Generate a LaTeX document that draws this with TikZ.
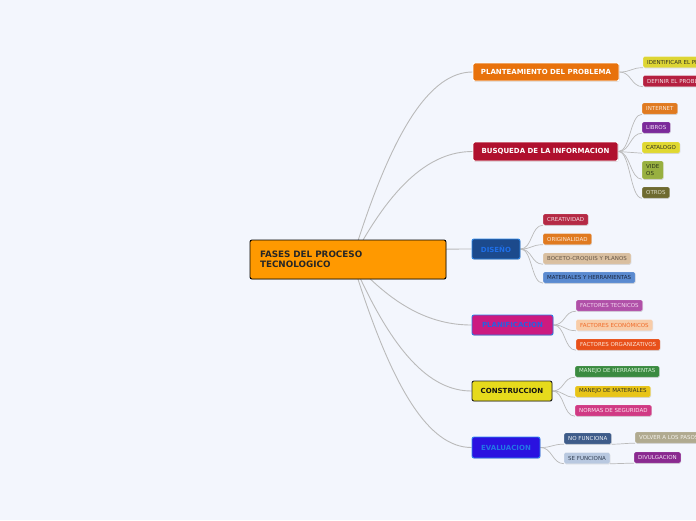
\documentclass[tikz,border=0pt]{standalone}
\usepackage{fontspec}
\setmainfont{DejaVu Sans}
\usetikzlibrary{shadows,calc}
\pgfdeclarelayer{bg}
\pgfsetlayers{bg,main}
\definecolor{bgc}{HTML}{F3F6FD}
\definecolor{linec}{HTML}{BABABA}
\definecolor{cOrange}{HTML}{FF9900}
\definecolor{cPlan}{HTML}{E8720C}
\definecolor{cBusq}{HTML}{B0102E}
\definecolor{cDisB}{HTML}{2E86E6}
\definecolor{cDisF}{HTML}{1C4A8C}
\definecolor{cDisT}{HTML}{1F6FE8}
\definecolor{cPlfB}{HTML}{2E7AE6}
\definecolor{cPlfF}{HTML}{CC1A80}
\definecolor{cPlfT}{HTML}{2A5FE0}
\definecolor{cConB}{HTML}{222222}
\definecolor{cConF}{HTML}{E6DA1C}
\definecolor{cConT}{HTML}{111111}
\definecolor{cEvaB}{HTML}{3088F0}
\definecolor{cEvaF}{HTML}{2A12E0}
\definecolor{cEvaT}{HTML}{2276E6}
\definecolor{tDark}{HTML}{333322}
\definecolor{fIdent}{HTML}{DDD533}
\definecolor{fDefin}{HTML}{B52040}\definecolor{tDefin}{HTML}{F4E4E8}
\definecolor{fInter}{HTML}{E07A20}\definecolor{tInter}{HTML}{FBE8D8}
\definecolor{fLibros}{HTML}{7B2A9A}\definecolor{tLibros}{HTML}{F0E0F4}
\definecolor{fCatal}{HTML}{E0D830}
\definecolor{fVideos}{HTML}{98B040}\definecolor{tVideos}{HTML}{2A3318}
\definecolor{fOtros}{HTML}{6E6A30}\definecolor{tOtros}{HTML}{DDDDC8}
\definecolor{fCreat}{HTML}{B52A45}\definecolor{tCreat}{HTML}{F4E0E4}
\definecolor{fBoceto}{HTML}{D9BFA0}\definecolor{tBoceto}{HTML}{665544}
\definecolor{fMater}{HTML}{5A8AD0}\definecolor{tMater}{HTML}{1A2640}
\definecolor{fFtec}{HTML}{B050A8}\definecolor{tFtec}{HTML}{F4D8F0}
\definecolor{fFeco}{HTML}{F8CCA8}\definecolor{tFeco}{HTML}{F06A28}
\definecolor{fForg}{HTML}{E8501A}\definecolor{tForg}{HTML}{FCE8DC}
\definecolor{fMherr}{HTML}{3A8A40}\definecolor{tMherr}{HTML}{D8F0D8}
\definecolor{fMmat}{HTML}{E8C418}
\definecolor{fNormas}{HTML}{D03A84}\definecolor{tNormas}{HTML}{FCE4F0}
\definecolor{fNofun}{HTML}{3E5C8A}\definecolor{tNofun}{HTML}{EEF2F8}
\definecolor{fSefun}{HTML}{B8C8E0}\definecolor{tSefun}{HTML}{334055}
\definecolor{fVolver}{HTML}{B0AA90}\definecolor{tVolver}{HTML}{F4F2EC}
\definecolor{fDivul}{HTML}{8A2A90}\definecolor{tDivul}{HTML}{F6E6F6}
\begin{document}
\begin{tikzpicture}[x=1pt,y=-1pt,
  mainbox/.style={rounded corners=2pt, inner sep=0pt, font=\fontsize{7}{8}\selectfont\bfseries, line width=0.9pt,
     drop shadow={shadow xshift=0.5pt,shadow yshift=-0.8pt,opacity=0.25}},
  subbox/.style={anchor=west, rounded corners=1.5pt, inner xsep=4pt, inner ysep=0pt, minimum height=11pt,
     font=\fontsize{5.5}{6}\selectfont, draw=white, draw opacity=0.35, line width=0.4pt,
     drop shadow={shadow xshift=0.4pt,shadow yshift=-0.8pt,opacity=0.25}},
  conn/.style={draw=linec, line width=0.9pt},
  sconn/.style={draw=linec, line width=0.7pt}]
\useasboundingbox (0,0) rectangle (696,520);
\clip (0,0) rectangle (696,520);
\begin{pgfonlayer}{bg}
\fill[bgc] (0,0) rectangle (696,520);
\end{pgfonlayer}

% central
\node[mainbox, draw=black, fill=cOrange, text width=176pt, inner xsep=10pt, minimum height=39pt,
  align=left, font=\fontsize{8.8}{10.5}\selectfont\bfseries, text=black!85] (c) at (348,259.5)
  {FASES DEL PROCESO\\TECNOLOGICO};
\coordinate (hub) at (352,260);

% main nodes
\node[mainbox, draw=white, fill=cPlan, text=white, minimum width=146pt, minimum height=18pt] (plan) at (546,72) {PLANTEAMIENTO DEL PROBLEMA};
\node[mainbox, draw=white, fill=cBusq, text=white, minimum width=145pt, minimum height=19pt] (busq) at (545.5,151.5) {BUSQUEDA DE LA INFORMACION};
\node[mainbox, draw=cDisB, fill=cDisF, text=cDisT, minimum width=48pt, minimum height=20pt] (dis) at (496,249) {DISEÑO};
\node[mainbox, draw=cPlfB, fill=cPlfF, text=cPlfT, minimum width=81pt, minimum height=20pt] (planif) at (512.5,325) {PLANIFICACION};
\node[mainbox, draw=cConB, fill=cConF, text=cConT, minimum width=80pt, minimum height=20pt] (constr) at (512,391) {CONSTRUCCION};
\node[mainbox, draw=cEvaB, fill=cEvaF, text=cEvaT, minimum width=68pt, minimum height=21pt] (eval) at (506,447.5) {EVALUACION};

% children
\node[subbox, fill=fIdent, text=tDark] (ident) at (643,62) {IDENTIFICAR EL PROBLEMA};
\node[subbox, fill=fDefin, text=tDefin] (defin) at (643,81) {DEFINIR EL PROBLEMA};

\node[subbox, fill=fInter, text=tInter] (inter) at (642,108.5) {INTERNET};
\node[subbox, fill=fLibros, text=tLibros] (libros) at (642,127.5) {LIBROS};
\node[subbox, fill=fCatal, text=tDark] (catal) at (642,147.5) {CATALOGO};
\node[subbox, fill=fVideos, text=tVideos, minimum height=18pt, align=left, font=\fontsize{5.5}{6.5}\selectfont] (videos) at (642,170) {VIDE\\OS};
\node[subbox, fill=fOtros, text=tOtros] (otros) at (642,192.5) {OTROS};

\node[subbox, fill=fCreat, text=tCreat] (creat) at (543,219.5) {CREATIVIDAD};
\node[subbox, fill=fInter, text=tInter] (orig) at (543,239) {ORIGINALIDAD};
\node[subbox, fill=fBoceto, text=tBoceto] (boceto) at (543,258.5) {BOCETO-CROQUIS Y PLANOS};
\node[subbox, fill=fMater, text=tMater] (mater) at (543,277.5) {MATERIALES Y HERRAMIENTAS};

\node[subbox, fill=fFtec, text=tFtec] (ftec) at (576,305.5) {FACTORES TECNICOS};
\node[subbox, fill=fFeco, text=tFeco] (feco) at (576,325) {FACTORES ECONÓMICOS};
\node[subbox, fill=fForg, text=tForg] (forg) at (576,344.5) {FACTORES ORGANIZATIVOS};

\node[subbox, fill=fMherr, text=tMherr] (mherr) at (575,371.5) {MANEJO DE HERRAMIENTAS};
\node[subbox, fill=fMmat, text=tDark] (mmat) at (575,391.5) {MANEJO DE MATERIALES};
\node[subbox, fill=fNormas, text=tNormas] (normas) at (575,410.5) {NORMAS DE SEGURIDAD};

\node[subbox, fill=fNofun, text=tNofun] (nofun) at (564,438.5) {NO FUNCIONA};
\node[subbox, fill=fSefun, text=tSefun] (sefun) at (564,458) {SE FUNCIONA};
\node[subbox, fill=fVolver, text=tVolver] (volver) at (635,437.5) {VOLVER A LOS PASOS};
\node[subbox, fill=fDivul, text=tDivul] (divul) at (634,457.5) {DIVULGACION};

% connectors
\begin{pgfonlayer}{bg}
\path[conn] (hub) .. controls +(40,-131) and +(-42,0) .. (plan.west);
\path[conn] (hub) .. controls +(40,-76) and +(-42,0) .. (busq.west);
\path[conn] (hub) .. controls +(40,-10) and +(-40,0) .. (dis.west);
\path[conn] (hub) .. controls +(40,45) and +(-42,0) .. (planif.west);
\path[conn] (hub) .. controls +(40,92) and +(-42,0) .. (constr.west);
\path[conn] (hub) .. controls +(40,131) and +(-42,0) .. (eval.west);

\foreach \p/\k in {plan/ident, plan/defin, busq/inter, busq/libros, busq/catal, busq/videos, busq/otros,
  dis/creat, dis/orig, dis/boceto, dis/mater, planif/ftec, planif/feco, planif/forg,
  constr/mherr, constr/mmat, constr/normas, eval/nofun, eval/sefun}
  \path[sconn] (\p.east) .. controls +(12,0) and +(-12,0) .. (\k.south west);
\path[sconn] (nofun.south east) .. controls +(10,0) and +(-10,0) .. (volver.south west);
\path[sconn] (sefun.south east) .. controls +(10,0) and +(-10,0) .. (divul.south west);
\end{pgfonlayer}
\end{tikzpicture}
\end{document}
